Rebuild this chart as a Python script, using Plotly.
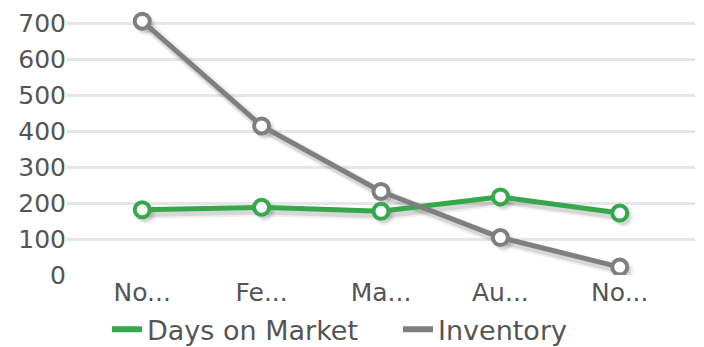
import plotly.graph_objects as go

# Monthly market figures
categories = ["No...", "Fe...", "Ma...", "Au...", "No..."]
days_on_market = [181, 188, 177, 217, 172]
inventory = [705, 414, 232, 104, 22]
series_names = ["Days on Market", "Inventory"]

GREEN = "#34a84a"
GRAY = "#7f7f7f"
FONT = "DejaVu Sans, Verdana, sans-serif"
TEXT = "#555555"

x_pos = list(range(len(categories)))

fig = go.Figure()

# soft drop shadows under each series
for vals in (inventory, days_on_market):
    for off, alpha, w in ((0.03, 0.06, 11), (0.025, 0.10, 7)):
        fig.add_trace(go.Scatter(
            x=[v + off for v in x_pos], y=[v - 10 for v in vals],
            mode="lines+markers", showlegend=False, hoverinfo="skip",
            line=dict(color=f"rgba(0,0,0,{alpha})", width=w),
            marker=dict(size=w + 10, color=f"rgba(0,0,0,{alpha})", line=dict(width=0)),
        ))

for vals, color in ((days_on_market, GREEN), (inventory, GRAY)):
    fig.add_trace(go.Scatter(
        x=x_pos, y=vals, mode="lines+markers", showlegend=False,
        line=dict(color=color, width=5),
        marker=dict(size=15, color="white", line=dict(color=color, width=4)),
    ))

# legend entries drawn as plain line swatches
for name, color in zip(series_names, (GREEN, GRAY)):
    fig.add_trace(go.Scatter(
        x=[None], y=[None], name=name, mode="lines",
        line=dict(color=color, width=6),
    ))

fig.update_layout(
    width=704, height=347,
    margin=dict(l=67, r=9, t=5, b=72, autoexpand=False),
    paper_bgcolor="white", plot_bgcolor="white",
    font=dict(family=FONT, size=25, color=TEXT),
    showlegend=True,
    legend=dict(
        orientation="h", xref="container", yref="container",
        x=0.152, xanchor="left", y=0.05, yanchor="middle",
        font=dict(size=27, color=TEXT), tracegroupgap=0,
        entrywidth=246, entrywidthmode="pixels",
        bgcolor="rgba(0,0,0,0)",
    ),
    xaxis=dict(
        tickmode="array", tickvals=x_pos, ticktext=categories,
        range=[-0.63, 4.63], showgrid=False, zeroline=False,
        showline=False, ticks="", tickfont=dict(size=25, color=TEXT),
    ),
    yaxis=dict(
        range=[0, 750], tickvals=[0, 100, 200, 300, 400, 500, 600, 700],
        showgrid=True, gridcolor="#e6e6e6", gridwidth=3,
        zeroline=False, showline=False, ticks="",
        tickfont=dict(size=25, color=TEXT),
    ),
)

fig.write_html("out.html")
